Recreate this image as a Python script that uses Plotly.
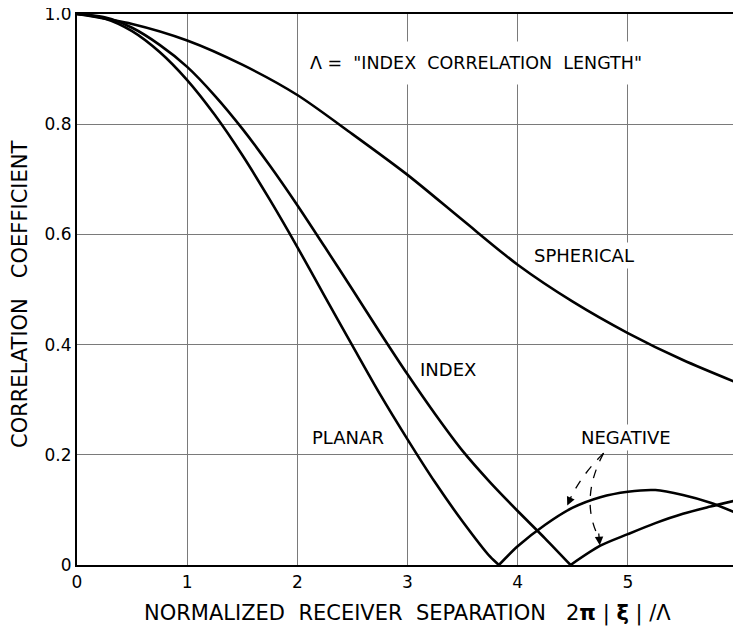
import plotly.graph_objects as go

# ---------------- data ----------------
planar_x = [0, 0.25, 0.5, 0.75, 1.0, 1.25, 1.5, 1.75, 2.0, 2.25, 2.5, 2.75, 3.0, 3.25, 3.5, 3.75, 3.83,
            4.0, 4.25, 4.5, 4.75, 5.0, 5.25, 5.5, 5.75, 6.0]
planar_y = [1.0, 0.992, 0.969, 0.931, 0.880, 0.817, 0.744, 0.663, 0.577, 0.487, 0.398, 0.310, 0.228, 0.150, 0.079, 0.015, 0.0,
            0.034, 0.073, 0.104, 0.123, 0.133, 0.136, 0.127, 0.113, 0.093]

index_x = [0, 0.25, 0.5, 0.75, 1.0, 1.25, 1.5, 1.75, 2.0, 2.25, 2.5, 2.75, 3.0, 3.25, 3.5, 3.75, 4.0, 4.25, 4.48,
           4.75, 5.0, 5.25, 5.5, 5.75, 6.0]
index_y = [1.0, 0.994, 0.975, 0.944, 0.904, 0.852, 0.792, 0.725, 0.653, 0.577, 0.500, 0.422, 0.346, 0.274, 0.207, 0.150, 0.098, 0.048, 0.0,
           0.035, 0.056, 0.076, 0.093, 0.106, 0.118]

spherical_x = [0, 0.5, 1.0, 1.5, 2.0, 2.5, 3.0, 3.5, 4.0, 4.5, 5.0, 5.5, 6.0]
spherical_y = [1.0, 0.982, 0.952, 0.908, 0.853, 0.782, 0.708, 0.626, 0.545, 0.478, 0.421, 0.372, 0.330]

x_ticks = [0, 1, 2, 3, 4, 5, 6]
x_tick_text = ["0", "1", "2", "3", "4", "5", "6"]
y_ticks = [0, 0.2, 0.4, 0.6, 0.8, 1.0]
y_tick_text = ["0", "0.2", "0.4", "0.6", "0.8", "1.0"]

curve_labels = ["SPHERICAL", "INDEX", "PLANAR", "NEGATIVE"]
curve_label_x = [4.6, 3.37, 2.46, 4.98]
curve_label_y = [0.562, 0.354, 0.232, 0.232]

# ---------------- figure ----------------
FONT = "DejaVu Sans"
fig = go.Figure()
line_style = dict(color="black", width=2.6)


def add_curve(xs, ys):
    # split at the zero (cusp) so each lobe is smoothed separately
    zi = [i for i, v in enumerate(ys) if v == 0.0]
    pieces = [(xs, ys)] if not zi else [(xs[:zi[0] + 1], ys[:zi[0] + 1]), (xs[zi[0]:], ys[zi[0]:])]
    for px, py in pieces:
        fig.add_trace(go.Scatter(x=px, y=py, mode="lines", line=dict(**line_style, shape="spline", smoothing=0.8),
                                 showlegend=False, hoverinfo="skip"))


add_curve(spherical_x, spherical_y)
add_curve(index_x, index_y)
add_curve(planar_x, planar_y)

# labels on curves
for t, lx, ly in zip(curve_labels, curve_label_x, curve_label_y):
    fig.add_annotation(x=lx, y=ly, xref="x", yref="y", text=t, showarrow=False,
                       xanchor="center", yanchor="middle", bgcolor="white", borderpad=2,
                       font=dict(family=FONT, size=18, color="black"))

# Lambda definition
fig.add_annotation(x=3.62, y=0.911, xref="x", yref="y",
                   text="Λ\u00a0=\u00a0\u00a0\"INDEX\u00a0\u00a0CORRELATION\u00a0\u00a0LENGTH\"",
                   showarrow=False, bgcolor="white", borderpad=11,
                   font=dict(family=FONT, size=17.5, color="black"))

# dashed curved arrows from NEGATIVE
fig.add_shape(type="path", xref="x", yref="y",
              path="M 4.78 0.203 Q 4.565 0.16 4.47 0.117",
              line=dict(color="black", width=1.3, dash="dash"))
fig.add_shape(type="path", xref="x", yref="y",
              path="M 4.78 0.203 Q 4.56 0.12 4.735 0.05",
              line=dict(color="black", width=1.3, dash="dash"))
fig.add_annotation(x=4.45, y=0.108, ax=4.48, ay=0.121, xref="x", yref="y", axref="x", ayref="y",
                   text="", showarrow=True, arrowhead=2, arrowsize=1.3, arrowwidth=1.3, arrowcolor="black")
fig.add_annotation(x=4.745, y=0.036, ax=4.735, ay=0.06, xref="x", yref="y", axref="x", ayref="y",
                   text="", showarrow=True, arrowhead=2, arrowsize=1.3, arrowwidth=1.3, arrowcolor="black")

# axis titles (positions relative to the plot area: left 77px, top 14px, 661x551 px)
fig.add_annotation(x=(407 - 77) / 661, y=(565 - 613) / 551, xref="paper", yref="paper",
                   text="NORMALIZED\u00a0\u00a0RECEIVER\u00a0\u00a0SEPARATION\u00a0\u00a0\u00a02<b>π</b>\u00a0|\u00a0<b>ξ</b>\u00a0|\u00a0/Λ",
                   showarrow=False, xanchor="center", yanchor="middle",
                   font=dict(family=FONT, size=21, color="black"))
fig.add_annotation(x=(20 - 77) / 661, y=(565 - 295) / 551, xref="paper", yref="paper", textangle=-90,
                   text="CORRELATION\u00a0\u00a0\u00a0COEFFICIENT",
                   showarrow=False, xanchor="center", yanchor="middle",
                   font=dict(family=FONT, size=21, color="black"))

axis_common = dict(showline=True, linecolor="black", linewidth=2.2, mirror=True,
                   showgrid=True, gridcolor="#7a7a7a", gridwidth=1, zeroline=False,
                   automargin=False, ticklabeloverflow="allow",
                   ticks="", tickfont=dict(family=FONT, size=17, color="black"))
fig.update_xaxes(range=[0, 6], tickvals=x_ticks, ticktext=x_tick_text, **axis_common)
fig.update_yaxes(range=[0, 1.0], tickvals=y_ticks, ticktext=y_tick_text, **axis_common)

# the page body adds an 8px margin, so the figure is sized to fill the rest of the window
fig.update_layout(width=733, height=620, margin=dict(l=69, r=3, t=6, b=63, autoexpand=False),
                  plot_bgcolor="white", paper_bgcolor="white", showlegend=False)

fig.write_html("out.html")
